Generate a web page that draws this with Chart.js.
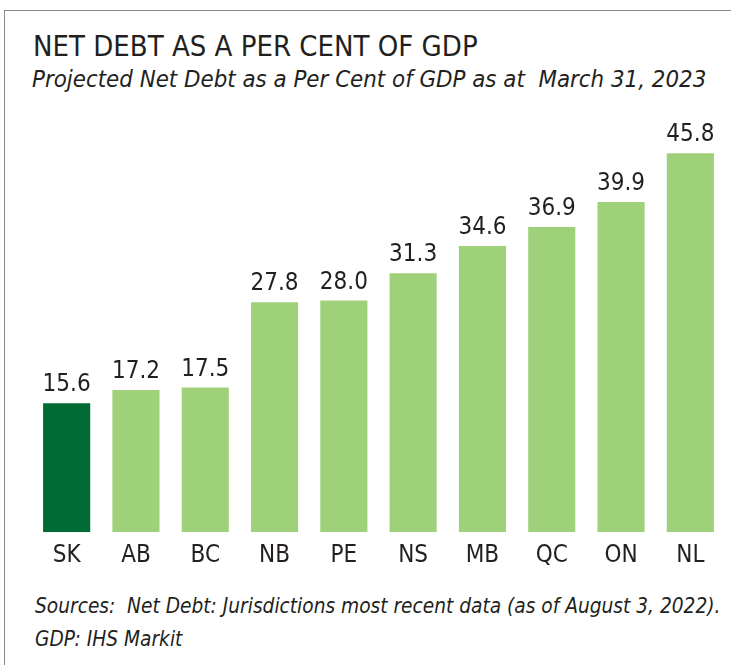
<!DOCTYPE html>
<html>
<head>
<meta charset="utf-8">
<script src="https://cdn.jsdelivr.net/npm/chart.js@4"></script>
<style>
    body { margin: 0; background: #fff; width: 731px; height: 665px; overflow: hidden; position: relative; }
    .frame { position: absolute; left: 4px; top: 10px; width: 740px; height: 700px; border: 1.5px solid #8a8a8a; }
    .txt { position: absolute; color: #231f20; white-space: nowrap; font-family: "Liberation Sans Narrow", "DejaVu Sans Condensed", "Noto Sans", sans-serif; }
    #title { left: 33px; top: 29px; font-size: 29px; }
    #subtitle { left: 32px; top: 65px; font-size: 23.8px; font-style: italic; }
    #src1 { left: 35px; top: 594px; font-size: 20.7px; font-style: italic; }
    #src2 { left: 35px; top: 627px; font-size: 20.7px; font-style: italic; }
    #wrap { position: absolute; left: 0; top: 100px; width: 731px; height: 479px; }
</style>
</head>
<body>
<div class="frame"></div>
<div class="txt" id="title">NET DEBT AS A PER CENT OF GDP</div>
<div class="txt" id="subtitle">Projected Net Debt as a Per Cent of GDP as at&nbsp; March 31, 2023</div>
<div class="txt" id="src1">Sources:&nbsp; Net Debt: Jurisdictions most recent data (as of August 3, 2022).</div>
<div class="txt" id="src2">GDP: IHS Markit</div>
<div id="wrap"><canvas id="chart"></canvas></div>
<script>
const provinces = ['SK', 'AB', 'BC', 'NB', 'PE', 'NS', 'MB', 'QC', 'ON', 'NL'];
const netDebt = [15.6, 17.2, 17.5, 27.8, 28.0, 31.3, 34.6, 36.9, 39.9, 45.8];

const darkGreen = '#006b35';
const lightGreen = '#9fd17b';
const fontFamily = '"Liberation Sans Narrow", "DejaVu Sans Condensed", "Noto Sans", sans-serif';

// value labels above each bar
const valueLabels = {
    id: 'valueLabels',
    afterDatasetsDraw(chart) {
        const ctx = chart.ctx;
        const meta = chart.getDatasetMeta(0);
        ctx.save();
        ctx.font = `24px ${fontFamily}`;
        ctx.fillStyle = '#231f20';
        ctx.textAlign = 'center';
        ctx.textBaseline = 'bottom';
        meta.data.forEach((bar, i) => {
            ctx.fillText(netDebt[i].toFixed(1), bar.x, bar.y - 6);
        });
        ctx.restore();
    }
};

new Chart(document.getElementById('chart'), {
    type: 'bar',
    data: {
        labels: provinces,
        datasets: [{
            data: netDebt,
            backgroundColor: provinces.map(p => p === 'SK' ? darkGreen : lightGreen),
            categoryPercentage: 0.68,
            barPercentage: 1,
        }],
    },
    options: {
        responsive: true,
        maintainAspectRatio: false,
        animation: false,
        layout: {
            padding: { left: 32, right: 6, top: 18.5, bottom: 8 },
        },
        plugins: {
            legend: { display: false },
            tooltip: { enabled: false },
        },
        scales: {
            x: {
                grid: { display: false },
                border: { display: false },
                ticks: {
                    color: '#231f20',
                    font: { family: fontFamily, size: 24 },
                    padding: 1,
                },
            },
            y: {
                display: false,
                min: 0,
                max: 50,
            },
        },
    },
    plugins: [valueLabels],
});
</script>
</body>
</html>
